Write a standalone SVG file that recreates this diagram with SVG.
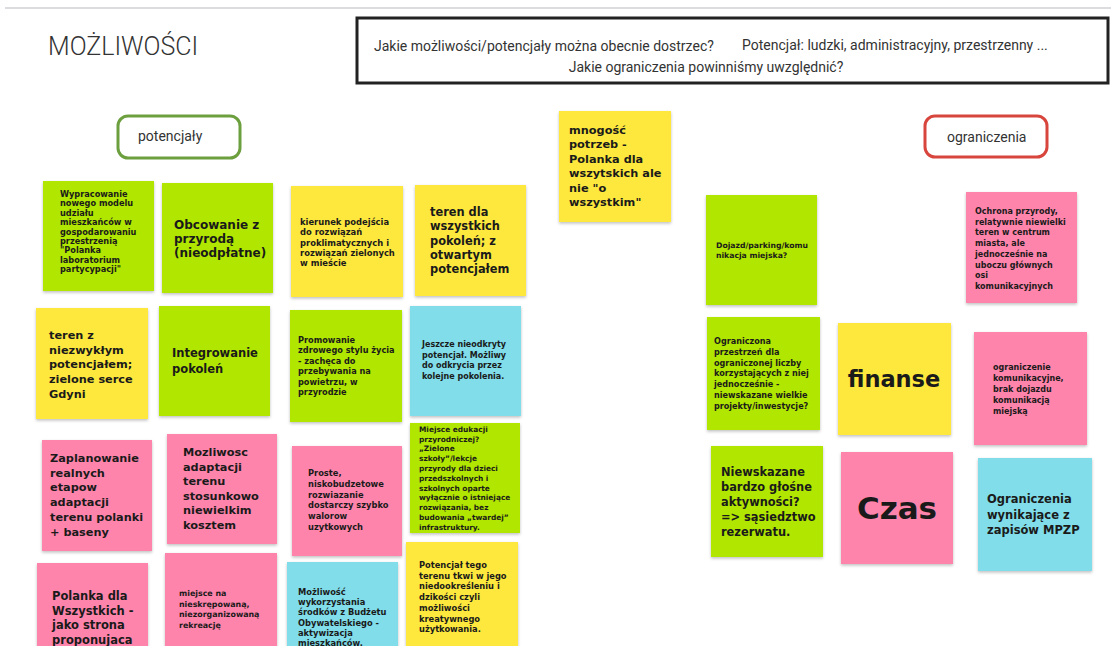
<svg xmlns="http://www.w3.org/2000/svg" width="1111" height="646" viewBox="0 0 1111 646">
<defs>
<filter id="sh" x="-10%" y="-10%" width="120%" height="125%">
<feDropShadow dx="0" dy="1.5" stdDeviation="1.5" flood-color="#000" flood-opacity="0.25"/>
</filter>
<style>
.hd{font-family:Roboto,"Liberation Sans",sans-serif;fill:#333}
.n{font-family:"DejaVu Sans","Liberation Sans",sans-serif;font-weight:bold;fill:#1a1a1a}
.g{fill:#b1e604;filter:url(#sh)}
.y{fill:#fee83c;filter:url(#sh)}
.p{fill:#ff84ab;filter:url(#sh)}
.c{fill:#80dde9;filter:url(#sh)}
</style>
</defs>
<rect width="1111" height="646" fill="#fff"/>
<line x1="5" y1="8" x2="1111" y2="8" stroke="#dcdce0" stroke-width="2"/>
<g id="title"><text class="hd" x="48" y="55" font-size="25" font-weight="300">MOŻLIWOŚCI</text></g>
<g id="question-box">
<rect x="357" y="18" width="751" height="65" fill="#fff" stroke="#222" stroke-width="3"/>
<text class="hd" font-size="14"><tspan x="374" y="51">Jakie możliwości/potencjały można obecnie dostrzec?</tspan><tspan x="742" y="50">Potencjał: ludzki, administracyjny, przestrzenny ...</tspan></text>
<text class="hd" font-size="14" x="706" y="72" text-anchor="middle">Jakie ograniczenia powinniśmy uwzględnić?</text>
</g>
<g id="label-potencjaly"><rect x="118" y="116" width="122" height="42" rx="10" fill="#fff" stroke="#6c9f3e" stroke-width="3"/><text class="hd" x="138" y="141" font-size="14">potencjały</text></g>
<g id="label-ograniczenia"><rect x="925" y="116" width="122" height="41" rx="10" fill="#fff" stroke="#d8453c" stroke-width="3"/><text class="hd" x="947" y="142" font-size="14">ograniczenia</text></g>
<g id="connectors"></g>

<g id="note-a"><rect class="g" x="43" y="181" width="111" height="110"/>
<text class="n" font-size="8.2"><tspan x="60" y="197">Wypracowanie</tspan><tspan x="60" y="206.4">nowego modelu</tspan><tspan x="60" y="215.8">udziału</tspan><tspan x="60" y="225.2">mieszkańców w</tspan><tspan x="60" y="234.6">gospodarowaniu</tspan><tspan x="60" y="244">przestrzenią</tspan><tspan x="60" y="253.4">"Polanka</tspan><tspan x="60" y="262.8">laboratorium</tspan><tspan x="60" y="272.2">partycypacji"</tspan></text></g>

<g id="note-b"><rect class="g" x="162" y="183" width="111" height="110"/>
<text class="n" font-size="12"><tspan x="174" y="229">Obcowanie z</tspan><tspan x="174" y="243">przyrodą</tspan><tspan x="174" y="257">(nieodpłatne)</tspan></text></g>

<g id="note-c"><rect class="y" x="291" y="186" width="112" height="111"/>
<text class="n" font-size="8.4"><tspan x="300" y="225">kierunek podejścia</tspan><tspan x="300" y="235.3">do rozwiązań</tspan><tspan x="300" y="245.6">proklimatycznych i</tspan><tspan x="300" y="255.9">rozwiązań  zielonych</tspan><tspan x="300" y="266.2">w mieście</tspan></text></g>

<g id="note-d"><rect class="y" x="415" y="185" width="111" height="111"/>
<text class="n" font-size="11.4"><tspan x="430" y="216">teren dla</tspan><tspan x="430" y="230.3">wszystkich</tspan><tspan x="430" y="244.6">pokoleń; z</tspan><tspan x="430" y="258.9">otwartym</tspan><tspan x="430" y="273.2">potencjałem</tspan></text></g>

<g id="note-e"><rect class="y" x="36" y="308" width="112" height="111"/>
<text class="n" font-size="11.3"><tspan x="49" y="339">teren z</tspan><tspan x="49" y="353.7">niezwykłym</tspan><tspan x="49" y="368.4">potencjałem;</tspan><tspan x="49" y="383.1">zielone serce</tspan><tspan x="49" y="397.8">Gdyni</tspan></text></g>

<g id="note-f"><rect class="g" x="159" y="306" width="111" height="110"/>
<text class="n" font-size="11.5"><tspan x="172" y="357">Integrowanie</tspan><tspan x="172" y="372.5">pokoleń</tspan></text></g>

<g id="note-g"><rect class="g" x="290" y="310" width="112" height="112"/>
<text class="n" font-size="8.2"><tspan x="298" y="343">Promowanie</tspan><tspan x="298" y="353.4">zdrowego stylu życia</tspan><tspan x="298" y="363.8">- zachęca do</tspan><tspan x="298" y="374.2">przebywania na</tspan><tspan x="298" y="384.6">powietrzu, w</tspan><tspan x="298" y="395">przyrodzie</tspan></text></g>

<g id="note-h"><rect class="c" x="410" y="306" width="111" height="110"/>
<text class="n" font-size="8"><tspan x="422" y="347">Jeszcze nieodkryty</tspan><tspan x="422" y="357.5">potencjał. Możliwy</tspan><tspan x="422" y="368">do odkrycia przez</tspan><tspan x="422" y="378.5">kolejne pokolenia.</tspan></text></g>

<g id="note-i"><rect class="p" x="42" y="440" width="110" height="111"/>
<text class="n" font-size="11.3"><tspan x="50" y="462">Zaplanowanie</tspan><tspan x="50" y="476.7">realnych</tspan><tspan x="50" y="491.4">etapow</tspan><tspan x="50" y="506.1">adaptacji</tspan><tspan x="50" y="520.8">terenu polanki</tspan><tspan x="50" y="535.5">+ baseny</tspan></text></g>

<g id="note-j"><rect class="p" x="167" y="434" width="110" height="110"/>
<text class="n" font-size="11.3"><tspan x="183" y="456">Mozliwosc</tspan><tspan x="183" y="470.6">adaptacji</tspan><tspan x="183" y="485.2">terenu</tspan><tspan x="183" y="499.8">stosunkowo</tspan><tspan x="183" y="514.4">niewielkim</tspan><tspan x="183" y="529">kosztem</tspan></text></g>

<g id="note-k"><rect class="p" x="292" y="446" width="110" height="110"/>
<text class="n" font-size="8.3"><tspan x="308" y="476">Proste,</tspan><tspan x="308" y="486.8">niskobudzetowe</tspan><tspan x="308" y="497.6">rozwiazanie</tspan><tspan x="308" y="508.4">dostarczy szybko</tspan><tspan x="308" y="519.2">walorow</tspan><tspan x="308" y="530">uzytkowych</tspan></text></g>

<g id="note-l"><rect class="g" x="410" y="423" width="110" height="110"/>
<text class="n" font-size="7.4"><tspan x="419" y="431.7">Miejsce edukacji</tspan><tspan x="419" y="441.5">przyrodniczej?</tspan><tspan x="419" y="451.3">„Zielone</tspan><tspan x="419" y="461.1">szkoły”/lekcje</tspan><tspan x="419" y="470.9">przyrody dla dzieci</tspan><tspan x="419" y="480.7">przedszkolnych i</tspan><tspan x="419" y="490.5">szkolnych oparte</tspan><tspan x="419" y="500.3">wyłącznie o istniejące</tspan><tspan x="419" y="510.1">rozwiązania, bez</tspan><tspan x="419" y="519.9">budowania „twardej”</tspan><tspan x="419" y="529.7">infrastruktury.</tspan></text></g>

<g id="note-m"><rect class="p" x="37" y="563" width="111" height="100"/>
<text class="n" font-size="11.5"><tspan x="52" y="600">Polanka dla</tspan><tspan x="52" y="614.7">Wszystkich -</tspan><tspan x="52" y="629.4">jako strona</tspan><tspan x="52" y="644.1">proponujaca</tspan></text></g>

<g id="note-n"><rect class="p" x="165" y="553" width="112" height="100"/>
<text class="n" font-size="7.9"><tspan x="179" y="596">miejsce na</tspan><tspan x="179" y="606.7">nieskrępowaną,</tspan><tspan x="179" y="617.4">niezorganizowaną</tspan><tspan x="179" y="628.1">rekreację</tspan></text></g>

<g id="note-o"><rect class="c" x="287" y="562" width="111" height="100"/>
<text class="n" font-size="8.3"><tspan x="298" y="595">Możliwość</tspan><tspan x="298" y="605.2">wykorzystania</tspan><tspan x="298" y="615.4">środków z Budżetu</tspan><tspan x="298" y="625.6">Obywatelskiego -</tspan><tspan x="298" y="635.8">aktywizacja</tspan><tspan x="298" y="646">mieszkańców.</tspan></text></g>

<g id="note-p"><rect class="y" x="406" y="542" width="112" height="110"/>
<text class="n" font-size="8.3"><tspan x="419" y="568">Potencjał tego</tspan><tspan x="419" y="578.7">terenu tkwi w jego</tspan><tspan x="419" y="589.4">niedookreśleniu i</tspan><tspan x="419" y="600.1">dzikości czyli</tspan><tspan x="419" y="610.8">możliwości</tspan><tspan x="419" y="621.5">kreatywnego</tspan><tspan x="419" y="632.2">użytkowania.</tspan></text></g>

<g id="note-q"><rect class="y" x="559" y="111" width="112" height="111"/>
<text class="n" font-size="11.3"><tspan x="569" y="134">mnogość</tspan><tspan x="569" y="148.4">potrzeb -</tspan><tspan x="569" y="162.8">Polanka dla</tspan><tspan x="569" y="177.2">wszytskich ale</tspan><tspan x="569" y="191.6">nie "o</tspan><tspan x="569" y="206">wszystkim"</tspan></text></g>

<g id="note-r"><rect class="g" x="706" y="195" width="111" height="110"/>
<text class="n" font-size="7.7"><tspan x="716" y="248">Dojazd/parking/komu</tspan><tspan x="716" y="257.5">nikacja miejska?</tspan></text></g>

<g id="note-s"><rect class="p" x="966" y="192" width="111" height="111"/>
<text class="n" font-size="8"><tspan x="975" y="214">Ochrona przyrody,</tspan><tspan x="975" y="224.7">relatywnie niewielki</tspan><tspan x="975" y="235.4">teren w centrum</tspan><tspan x="975" y="246.1">miasta, ale</tspan><tspan x="975" y="256.8">jednocześnie na</tspan><tspan x="975" y="267.5">uboczu głównych</tspan><tspan x="975" y="278.2">osi</tspan><tspan x="975" y="288.9">komunikacyjnych</tspan></text></g>

<g id="note-t"><rect class="g" x="707" y="317" width="113" height="113"/>
<text class="n" font-size="8.1"><tspan x="714" y="344">Ograniczona</tspan><tspan x="714" y="354.8">przestrzeń dla</tspan><tspan x="714" y="365.6">ograniczonej liczby</tspan><tspan x="714" y="376.4">korzystających z niej</tspan><tspan x="714" y="387.2">jednocześnie -</tspan><tspan x="714" y="398">niewskazane wielkie</tspan><tspan x="714" y="408.8">projekty/inwestycje?</tspan></text></g>

<g id="note-u"><rect class="y" x="838" y="323" width="113" height="112"/>
<text class="n" font-size="22.5" x="894" y="387" text-anchor="middle">finanse</text></g>

<g id="note-v"><rect class="p" x="974" y="332" width="113" height="113"/>
<text class="n" font-size="8"><tspan x="993" y="370">ograniczenie</tspan><tspan x="993" y="381">komunikacyjne,</tspan><tspan x="993" y="392">brak dojazdu</tspan><tspan x="993" y="403">komunikacją</tspan><tspan x="993" y="414">miejską</tspan></text></g>

<g id="note-w"><rect class="g" x="711" y="446" width="112" height="111"/>
<text class="n" font-size="11.4"><tspan x="721" y="476">Niewskazane</tspan><tspan x="721" y="491">bardzo głośne</tspan><tspan x="721" y="506">aktywności?</tspan><tspan x="721" y="521">=&gt; sąsiedztwo</tspan><tspan x="721" y="536">rezerwatu.</tspan></text></g>

<g id="note-x"><rect class="p" x="841" y="452" width="112" height="112"/>
<text class="n" font-size="31" x="897" y="519" text-anchor="middle">Czas</text></g>

<g id="note-y"><rect class="c" x="978" y="458" width="114" height="113"/>
<text class="n" font-size="11.5"><tspan x="987" y="503">Ograniczenia</tspan><tspan x="987" y="518.5">wynikające z</tspan><tspan x="987" y="534">zapisów MPZP</tspan></text></g>
</svg>
